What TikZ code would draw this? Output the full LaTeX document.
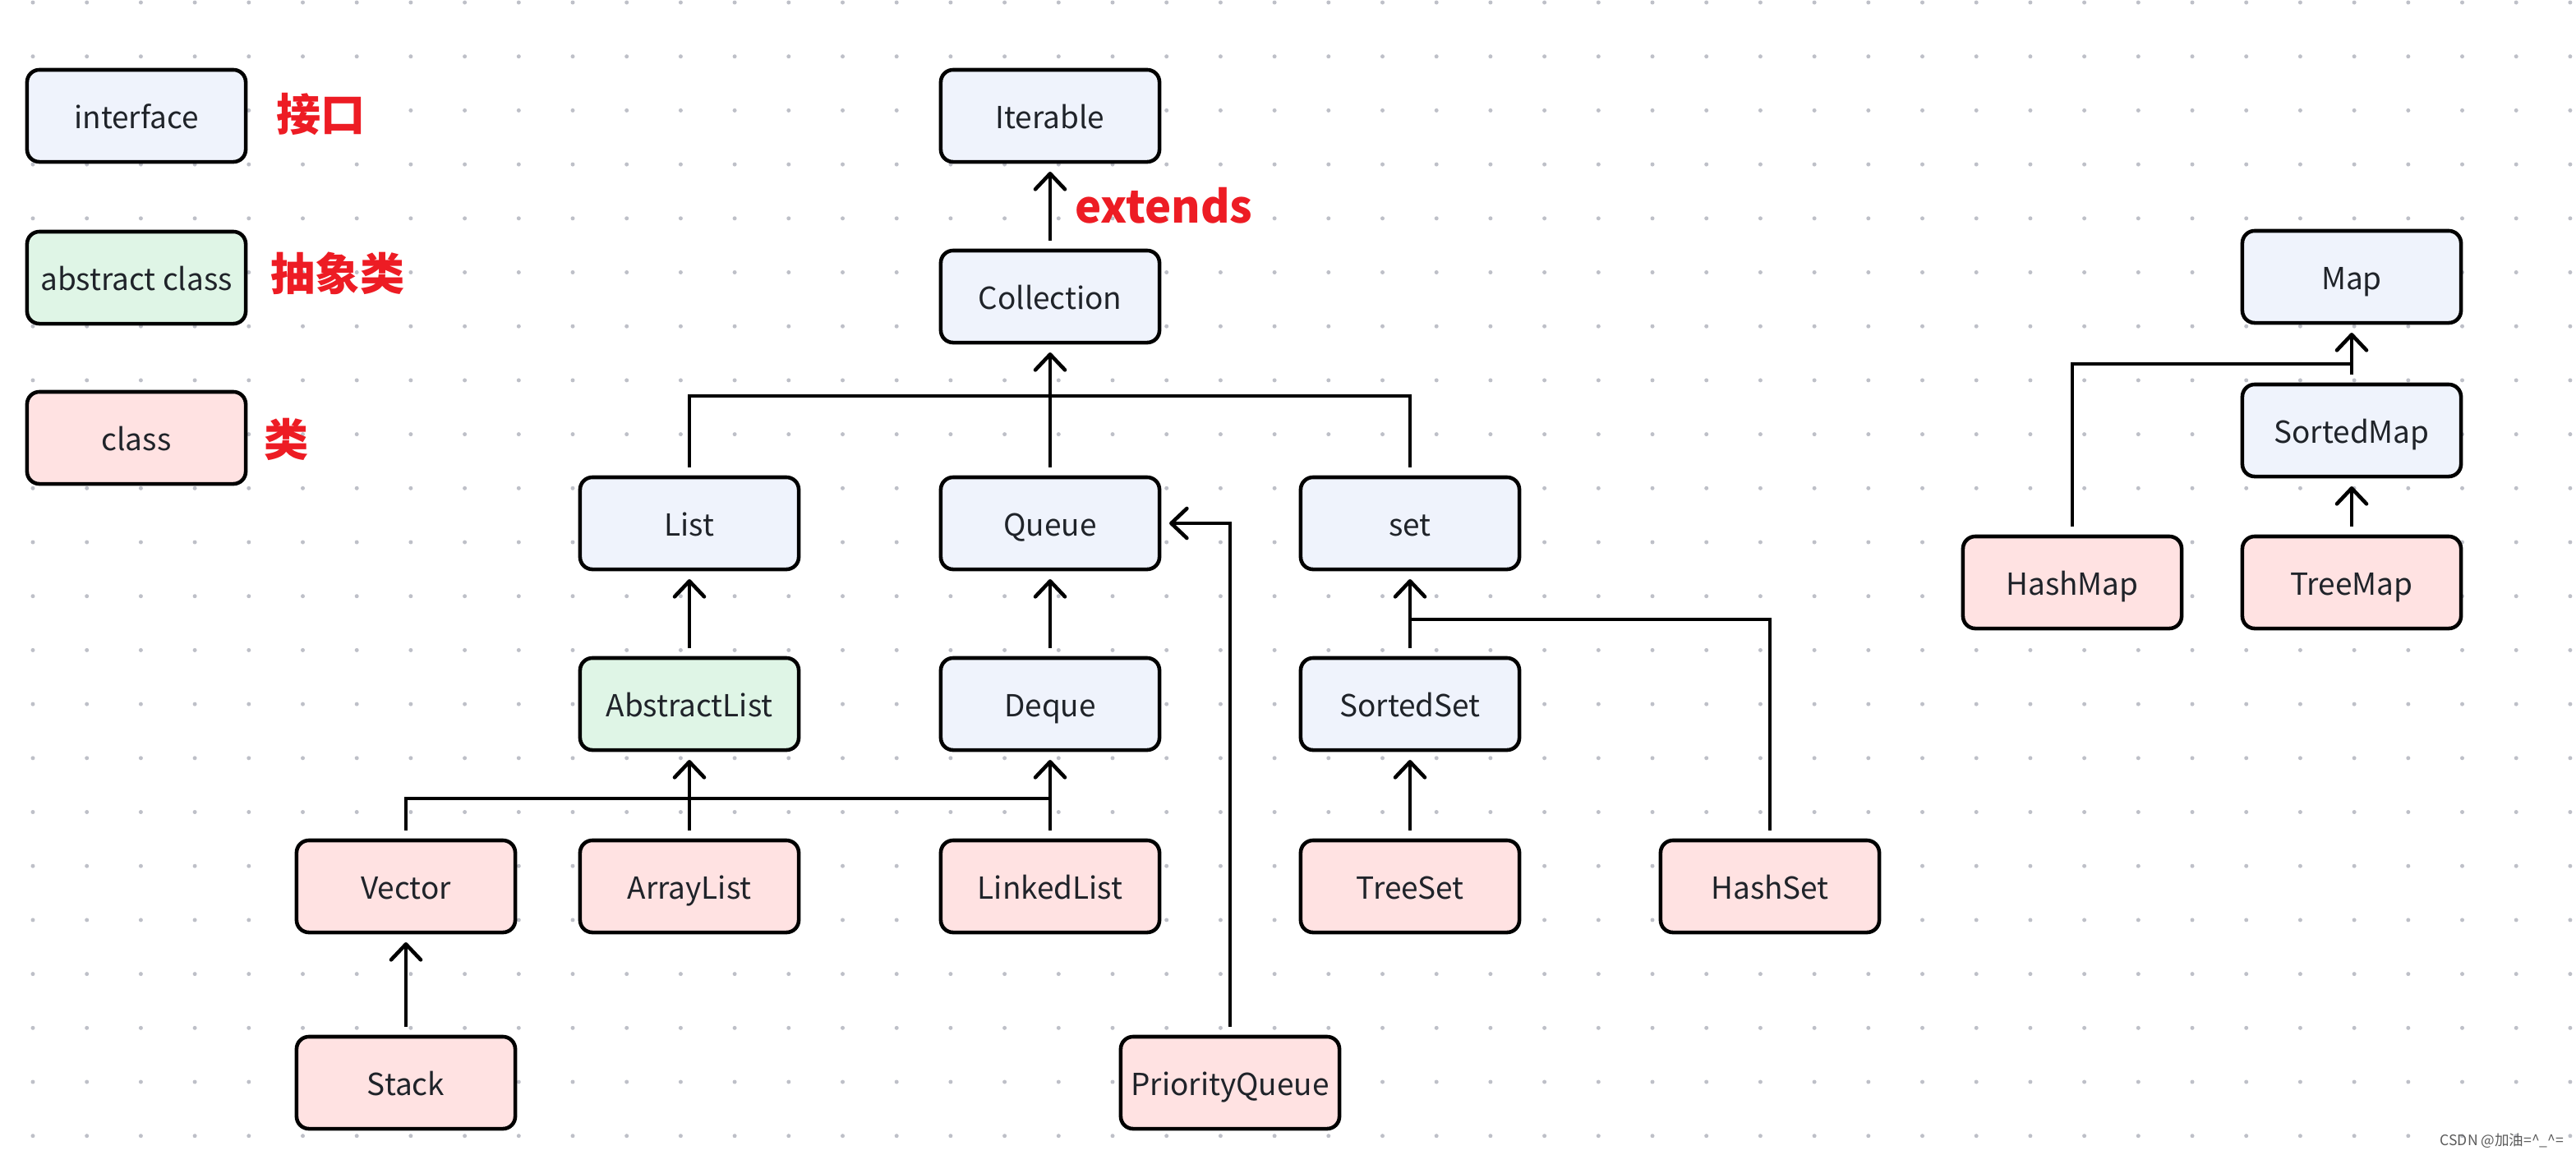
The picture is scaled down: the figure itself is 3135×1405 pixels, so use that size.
\documentclass[tikz,border=0pt]{standalone}
\usepackage{fontspec}
\setmainfont{Noto Sans CJK SC}
\usetikzlibrary{arrows.meta}

\definecolor{ifacefill}{RGB}{239,243,252}
\definecolor{absfill}{RGB}{223,245,230}
\definecolor{classfill}{RGB}{255,226,226}
\definecolor{labelred}{RGB}{237,28,36}
\definecolor{boxtext}{RGB}{31,35,41}
\definecolor{griddot}{RGB}{190,192,200}
\definecolor{marktext}{RGB}{90,90,90}

\tikzset{
  box/.style={draw=black, line width=1.3pt, rounded corners=0.15cm,
    minimum width=2.66cm, minimum height=1.12cm, inner sep=0pt, outer sep=0.12cm,
    text height=0.31cm, text depth=0cm,
    text=boxtext, font=\fontsize{10.5}{12}\selectfont},
  iface/.style={box, fill=ifacefill},
  absclass/.style={box, fill=absfill},
  cls/.style={box, fill=classfill},
  redtag/.style={text=labelred, inner sep=0pt, font=\fontsize{15.4}{18}\selectfont\bfseries},
  link/.style={line width=1.3pt},
}

\begin{document}
\begin{tikzpicture}[x=0.01cm, y=-0.01cm, >={Straight Barb[length=0.19cm, width=0.36cm, round]}]
        \useasboundingbox (0,0) rectangle (3135,1405);
        % dotted canvas
        \foreach \i in {0,...,47} {
            \foreach \j in {0,...,21} {
                \fill[griddot] (40+65.7*\i, 3+65.7*\j) circle[radius=0.025cm];
            }
        }

        % legend
        \node[iface] (lgiface) at (166,141) {interface};
        \node[absclass] (lgabs) at (166,338) {abstract class};
        \node[cls] (lgclass) at (166,533) {class};
        \node[redtag, anchor=west] (tagiface) at (336,139) {接口};
        \node[redtag, anchor=west] (tagabs) at (329,333) {抽象类};
        \node[redtag, anchor=west] (tagclass) at (321,535) {类};

        % Collection side
        \node[iface] (iterable) at (1278,141) {Iterable};
        \node[iface] (collection) at (1278,361) {Collection};
        \node[iface] (list) at (839,637) {List};
        \node[iface] (queue) at (1278,637) {Queue};
        \node[iface] (set) at (1716,637) {set};
        \node[absclass] (abslist) at (839,857) {AbstractList};
        \node[iface] (deque) at (1278,857) {Deque};
        \node[iface] (sortedset) at (1716,857) {SortedSet};
        \node[cls] (vector) at (494,1079) {Vector};
        \node[cls] (arraylist) at (839,1079) {ArrayList};
        \node[cls] (linkedlist) at (1278,1079) {LinkedList};
        \node[cls] (treeset) at (1716,1079) {TreeSet};
        \node[cls] (hashset) at (2154,1079) {HashSet};
        \node[cls] (stack) at (494,1318) {Stack};
        \node[cls] (pqueue) at (1497,1318) {PriorityQueue};

        % Map side
        \node[iface] (map) at (2862,337) {Map};
        \node[iface] (sortedmap) at (2862,524) {SortedMap};
        \node[cls] (hashmap) at (2522,709) {HashMap};
        \node[cls] (treemap) at (2862,709) {TreeMap};

        \node[redtag, anchor=base west] (tagext) at (1308,271) {extends};

        % junctions of the elbow lines
        \coordinate (collbar) at (1278,482);
        \coordinate (listbar) at (1278,972);
        \coordinate (setbar) at (1716,754);
        \coordinate (mapbar) at (2862,443);

        % connectors
        \draw[link, ->] (collection) -- (iterable);
        \draw[link] (list.north) |- (collbar) -| (set.north);
        \draw[link, ->] (queue) -- (collection);
        \draw[link, ->] (abslist) -- (list);
        \draw[link, ->] (deque) -- (queue);
        \draw[link, ->] (sortedset) -- (set);
        \draw[link] (vector.north) |- (listbar);
        \draw[link, ->] (arraylist) -- (abslist);
        \draw[link, ->] (linkedlist) -- (deque);
        \draw[link, ->] (stack) -- (vector);
        \draw[link, ->] (treeset) -- (sortedset);
        \draw[link] (hashset.north) |- (setbar);
        \draw[link, ->] (pqueue.north) |- (queue.east);
        \draw[link, ->] (sortedmap) -- (map);
        \draw[link, ->] (treemap) -- (sortedmap);
        \draw[link] (hashmap.north) |- (mapbar);

        \node[anchor=east, inner sep=0pt, text=marktext, font=\fontsize{5}{6}\selectfont] (mark) at (3121,1389) {CSDN @加油=\textasciicircum\_\textasciicircum=};
\end{tikzpicture}
\end{document}
